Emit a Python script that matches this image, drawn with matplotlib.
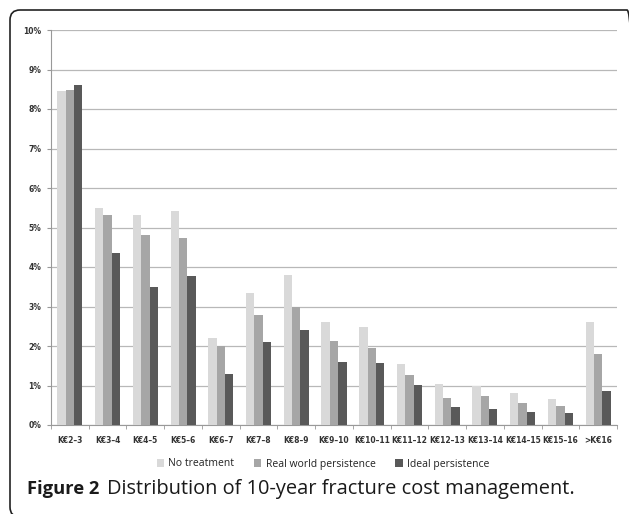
import matplotlib
matplotlib.use("Agg")
import matplotlib.pyplot as plt
import numpy as np
from matplotlib.patches import FancyBboxPatch

# data (percent of patients)
categories = ["K€2–3", "K€3–4", "K€4–5", "K€5–6", "K€6–7", "K€7–8", "K€8–9", "K€9–10",
              "K€10–11", "K€11–12", "K€12–13", "K€13–14", "K€14–15", "K€15–16", ">K€16"]
no_treatment = [8.45, 5.50, 5.31, 5.43, 2.19, 3.35, 3.81, 2.62, 2.48, 1.54, 1.05, 0.99, 0.80, 0.66, 2.60]
real_world = [8.48, 5.31, 4.81, 4.73, 1.99, 2.78, 2.99, 2.12, 1.95, 1.26, 0.68, 0.73, 0.55, 0.47, 1.81]
ideal = [8.60, 4.35, 3.49, 3.76, 1.29, 2.10, 2.41, 1.60, 1.56, 1.01, 0.46, 0.41, 0.32, 0.30, 0.85]
series_names = ["No treatment", "Real world persistence", "Ideal persistence"]
colors = ["#d9d9d9", "#a6a6a6", "#595959"]
yticks = np.arange(0, 11, 1)

W, H = 629, 514
fig = plt.figure(figsize=(W / 100, H / 100), dpi=100)
ax = fig.add_axes([51 / W, 1 - 425 / H, (617 - 51) / W, (425 - 30) / H])

x = np.arange(len(categories))
bw = 0.222
for i, (vals, name, c) in enumerate(zip([no_treatment, real_world, ideal], series_names, colors)):
    ax.bar(x + (i - 1) * bw, vals, width=bw, color=c, label=name, zorder=3)

ax.set_xlim(-0.5, len(categories) - 0.5)
ax.set_ylim(0, 10)
ax.set_yticks(yticks)
ax.set_yticklabels([f"{v}%" for v in yticks], fontsize=5.5, fontweight="bold", color="#333333")
ax.yaxis.grid(True, color="#b8b8b8", linewidth=0.9, zorder=0)
ax.set_xticks(x)
ax.set_xticklabels(categories, fontsize=5.5, fontweight="bold", color="#333333")
ax.set_xticks(np.arange(-0.5, len(categories), 1), minor=True)
ax.tick_params(axis="x", which="major", length=0, pad=8)
ax.tick_params(axis="x", which="minor", length=3, color="#999999", direction="out")
ax.tick_params(axis="y", length=3, color="#999999", pad=4)
for s in ["top", "right"]:
    ax.spines[s].set_visible(False)
ax.spines["left"].set_color("#999999")
ax.spines["bottom"].set_color("#999999")

leg = fig.legend(loc="center", bbox_to_anchor=(323 / W, 1 - 464 / H), ncol=3, frameon=False,
                 handlelength=0.7, handleheight=0.7, handletextpad=0.4,
                 columnspacing=1.9, prop={"family": "Open Sans", "size": 7.5})
for t in leg.get_texts():
    t.set_color("#222222")

fig.text(27 / W, 1 - 494 / H, "Figure 2", fontsize=13.2, fontweight="bold",
         family="Open Sans", color="#1a1a1a", va="baseline")
fig.text(107 / W, 1 - 494 / H, "Distribution of 10-year fracture cost management.",
         fontsize=14.4, family="Open Sans", color="#1a1a1a", va="baseline")

# rounded outer frame, right and bottom edges fall just outside the image
frame = FancyBboxPatch((0.10, -0.03), 6.27, 5.07,
                       boxstyle="round,pad=0,rounding_size=0.1",
                       transform=fig.dpi_scale_trans, fill=False, edgecolor="#222222",
                       linewidth=1.2, clip_on=False)
fig.patches.append(frame)

fig.savefig("out.png", dpi=100)
